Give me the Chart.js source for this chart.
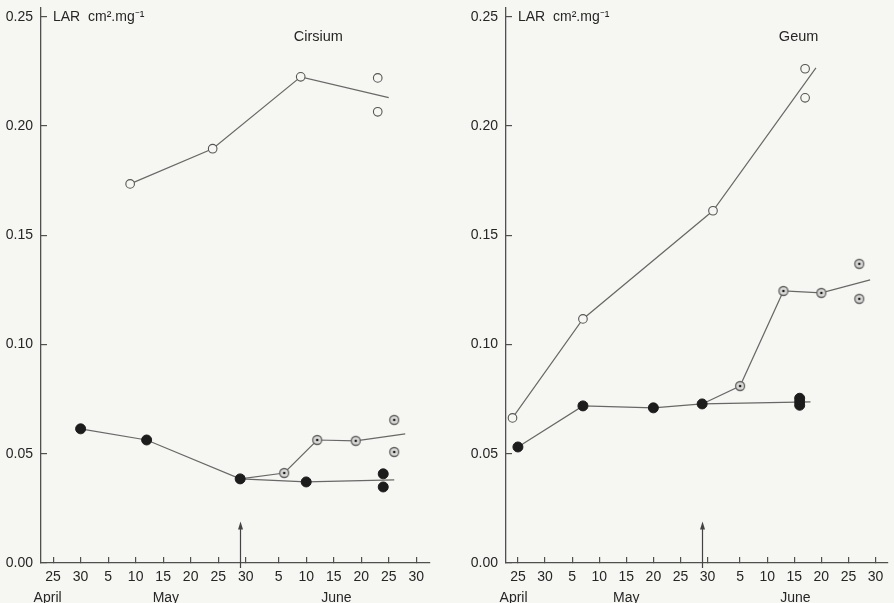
<!DOCTYPE html>
<html>
<head>
<meta charset="utf-8">
<script src="https://cdn.jsdelivr.net/npm/chart.js@4.4.1/dist/chart.umd.min.js"></script>
<style>
  html, body { margin: 0; padding: 0; background: #f6f6f3; }
  #wrap { position: relative; width: 894px; height: 603px; overflow: hidden; }
  canvas { position: absolute; top: 0; }
  #cirsium_chart { left: 0; }
  #geum_chart { left: 445px; }
</style>
</head>
<body>
<div id="wrap">
  <canvas id="cirsium_chart" width="445" height="603"></canvas>
  <canvas id="geum_chart" width="449" height="603"></canvas>
</div>
<script>
// days counted from 25 April (= 0); 30 May = 35, 5 June = 41
const tickDays = [0, 5, 10, 15, 20, 25, 30, 35, 41, 46, 51, 56, 61, 66]
const tickLabels = ["25", "30", "5", "10", "15", "20", "25", "30", "5", "10", "15", "20", "25", "30"]
const larTicks = [0, 0.05, 0.10, 0.15, 0.20, 0.25]
const months = ["April", "May", "June"]
const arrowDay = 34
const arrowTop = 0.019

// Cirsium
const cirsiumOpenDays = [14, 29, 45, 61]
const cirsiumOpenLar = [0.1735, 0.1896, 0.2225, 0.2130]
const cirsiumOpenEndDays = [59, 59]
const cirsiumOpenEndLar = [0.2220, 0.2065]
const cirsiumFilledDays = [5, 17, 34, 46, 62]
const cirsiumFilledLar = [0.0614, 0.0563, 0.0385, 0.0371, 0.0380]
const cirsiumFilledEndDays = [60, 60]
const cirsiumFilledEndLar = [0.0408, 0.0348]
const cirsiumDotDays = [34, 42, 48, 55, 64]
const cirsiumDotLar = [0.0385, 0.0412, 0.0563, 0.0559, 0.0591]
const cirsiumDotEndDays = [62, 62]
const cirsiumDotEndLar = [0.0655, 0.0508]
const cirsiumMonthDays = [-1, 20.5, 51.5]

// Geum
const geumOpenDays = [-1, 12, 36, 55]
const geumOpenLar = [0.0664, 0.1117, 0.1612, 0.2266]
const geumOpenEndDays = [53, 53]
const geumOpenEndLar = [0.2262, 0.2129]
const geumFilledDays = [0, 12, 25, 34, 54]
const geumFilledLar = [0.0531, 0.0719, 0.0710, 0.0728, 0.0737]
const geumFilledEndDays = [52, 52, 52]
const geumFilledEndLar = [0.0754, 0.0738, 0.0722]
const geumDotDays = [34, 41, 49, 56, 65]
const geumDotLar = [0.0728, 0.0810, 0.1245, 0.1236, 0.1296]
const geumDotEndDays = [63, 63]
const geumDotEndLar = [0.1369, 0.1209]
const geumMonthDays = [-0.8, 20, 51.2]

const BG = "#f6f6f3"
const LINE = "#686868"
const AXIS = "#505050"
const TXT = "#262626"
const FONT = '"Liberation Sans", Arial, Helvetica, sans-serif'

// circle with a dot in the middle
const dotMarker = document.createElement("canvas")
dotMarker.width = 12
dotMarker.height = 12
{
    const c = dotMarker.getContext("2d")
    c.beginPath()
    c.arc(6, 6, 4.5, 0, Math.PI * 2)
    c.fillStyle = "#d8d8d6"
    c.fill()
    c.lineWidth = 1.3
    c.strokeStyle = "#626262"
    c.stroke()
    c.beginPath()
    c.arc(6, 6, 1.3, 0, Math.PI * 2)
    c.fillStyle = "#1e1e1e"
    c.fill()
}

const open = { style: "circle", r: 4.3, bg: BG, border: "#555", bw: 1.1 }
const filled = { style: "circle", r: 5, bg: "#1c1c1c", border: "#1c1c1c", bw: 1 }
const dotted = { style: dotMarker, r: 5, bg: BG, border: "#666", bw: 1 }

function serie(days, vals) {
    return days.map((d, i) => ({ x: d, y: vals[i] }))
}

function linha(days, vals, m, noFirst) {
    const n = days.length
    return {
        type: "line",
        data: serie(days, vals),
        borderColor: LINE,
        borderWidth: 1.2,
        fill: false,
        tension: 0,
        pointStyle: m.style,
        pointBackgroundColor: m.bg,
        pointBorderColor: m.border,
        pointBorderWidth: m.bw,
        pointRadius: (ctx) => (ctx.dataIndex === n - 1 || (noFirst && ctx.dataIndex === 0)) ? 0 : m.r,
        order: 2
    }
}

function pontos(days, vals, m) {
    return {
        type: "scatter",
        data: serie(days, vals),
        showLine: false,
        pointStyle: m.style,
        pointBackgroundColor: m.bg,
        pointBorderColor: m.border,
        pointBorderWidth: m.bw,
        pointRadius: m.r,
        order: 1
    }
}

const anotacoes = {
    id: "anotacoes",
    afterDraw(chart, args, o) {
        const { ctx, chartArea } = chart
        const x = chart.scales.x
        const y = chart.scales.y
        ctx.save()
        ctx.fillStyle = TXT
        ctx.textBaseline = "middle"
        ctx.textAlign = "left"
        ctx.font = "14px " + FONT
        ctx.fillText("LAR  cm\u00B2.mg\u207B\u00B9", chartArea.left + 12, y.getPixelForValue(0.25))

        ctx.textAlign = "center"
        ctx.font = "14.5px " + FONT
        ctx.fillText(o.titulo, x.getPixelForValue(o.tituloDia), y.getPixelForValue(o.tituloLar))
        ctx.font = "14px " + FONT
        months.forEach((m, i) => {
            ctx.fillText(m, x.getPixelForValue(o.meses[i]), x.bottom - 5)
        })

        // arrow
        const ax = Math.round(x.getPixelForValue(arrowDay)) + 0.5
        const y0 = y.getPixelForValue(0) + 5
        const y1 = y.getPixelForValue(arrowTop)
        ctx.strokeStyle = "#444"
        ctx.lineWidth = 1.2
        ctx.beginPath()
        ctx.moveTo(ax, y0)
        ctx.lineTo(ax, y1 + 6)
        ctx.stroke()
        ctx.fillStyle = "#444"
        ctx.beginPath()
        ctx.moveTo(ax, y1)
        ctx.lineTo(ax - 2.5, y1 + 8)
        ctx.lineTo(ax + 2.5, y1 + 8)
        ctx.closePath()
        ctx.fill()
        ctx.restore()
    }
}

function criarGrafico(id, cfg) {
    return new Chart(document.getElementById(id), {
        data: { datasets: cfg.datasets },
        options: {
            responsive: false,
            animation: false,
            devicePixelRatio: 1,
            layout: { padding: { top: 8, right: cfg.padRight, left: 0, bottom: 0 } },
            plugins: {
                legend: { display: false },
                tooltip: { enabled: false },
                anotacoes: cfg.notas
            },
            scales: {
                x: {
                    type: "linear",
                    min: -2.2,
                    max: cfg.xMax,
                    afterBuildTicks: (s) => { s.ticks = tickDays.map(v => ({ value: v })) },
                    afterFit: (s) => { s.height = 40; s.paddingLeft = 0; s.paddingRight = 0 },
                    ticks: {
                        autoSkip: false,
                        maxRotation: 0,
                        padding: 12,
                        color: TXT,
                        font: { size: 14, family: FONT },
                        callback: (v) => tickLabels[tickDays.indexOf(v)]
                    },
                    grid: { drawOnChartArea: false, tickLength: -6, color: AXIS, lineWidth: 1.2 },
                    border: { color: AXIS, width: 1.3 }
                },
                y: {
                    type: "linear",
                    min: 0,
                    max: 0.254,
                    afterBuildTicks: (s) => { s.ticks = larTicks.map(v => ({ value: v })) },
                    afterFit: (s) => { s.width = cfg.yWidth; s.paddingTop = 0; s.paddingBottom = 0 },
                    ticks: {
                        padding: 14,
                        color: TXT,
                        font: { size: 14, family: FONT },
                        callback: (v) => v.toFixed(2)
                    },
                    grid: { drawOnChartArea: false, tickLength: -6, color: AXIS, lineWidth: 1.2 },
                    border: { color: AXIS, width: 1.3 }
                }
            }
        },
        plugins: [anotacoes]
    })
}

const cirsium_chart = criarGrafico("cirsium_chart", {
    yWidth: 41,
    padRight: 15,
    xMax: 68.5,
    notas: { titulo: "Cirsium", tituloDia: 48.2, tituloLar: 0.2408, meses: cirsiumMonthDays },
    datasets: [
        linha(cirsiumOpenDays, cirsiumOpenLar, open),
        pontos(cirsiumOpenEndDays, cirsiumOpenEndLar, open),
        linha(cirsiumFilledDays, cirsiumFilledLar, filled),
        pontos(cirsiumFilledEndDays, cirsiumFilledEndLar, filled),
        linha(cirsiumDotDays, cirsiumDotLar, dotted, true),
        pontos(cirsiumDotEndDays, cirsiumDotEndLar, dotted)
    ]
})

const geum_chart = criarGrafico("geum_chart", {
    yWidth: 61,
    padRight: 1,
    xMax: 68.3,
    notas: { titulo: "Geum", tituloDia: 51.8, tituloLar: 0.2408, meses: geumMonthDays },
    datasets: [
        linha(geumOpenDays, geumOpenLar, open),
        pontos(geumOpenEndDays, geumOpenEndLar, open),
        linha(geumFilledDays, geumFilledLar, filled),
        pontos(geumFilledEndDays, geumFilledEndLar, filled),
        linha(geumDotDays, geumDotLar, dotted, true),
        pontos(geumDotEndDays, geumDotEndLar, dotted)
    ]
})
</script>
</body>
</html>
